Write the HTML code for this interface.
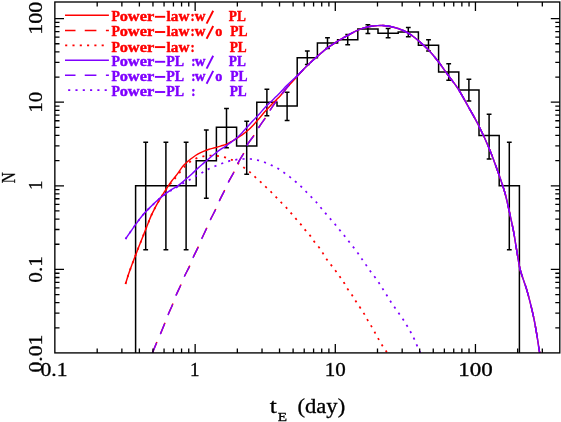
<!DOCTYPE html>
<html><head><meta charset="utf-8"><title>tE distribution</title>
<style>html,body{margin:0;padding:0;background:#fff;}body{width:561px;height:422px;overflow:hidden;font-family:"Liberation Serif",serif;}svg{display:block;will-change:transform;}text{font-family:"Liberation Serif",serif;}</style></head><body>
<svg width="561" height="422" viewBox="0 0 561 422">
<rect x="0" y="0" width="561" height="422" fill="#fff"/>
<path d="M135.60,353.00 L135.60,185.80 L155.80,185.80 L155.80,185.80 L176.00,185.80 L176.00,185.80 L196.20,185.80 L196.20,160.63 L216.40,160.63 L216.40,127.37 L236.60,127.37 L236.60,145.91 L256.80,145.91 L256.80,102.20 L277.00,102.20 L277.00,106.03 L297.20,106.03 L297.20,57.77 L317.40,57.77 L317.40,43.05 L337.60,43.05 L337.60,39.65 L357.80,39.65 L357.80,29.04 L378.00,29.04 L378.00,33.14 L398.20,33.14 L398.20,32.07 L418.40,32.07 L418.40,45.25 L438.60,45.25 L438.60,71.96 L458.80,71.96 L458.80,89.98 L479.00,89.98 L479.00,135.47 L499.20,135.47 L499.20,185.80 L519.40,185.80 L519.40,353.00" fill="none" stroke="#000" stroke-width="1.5" stroke-linejoin="miter"/>
<path d="M145.70,142.20V249.82M143.30,142.20H148.10M143.30,249.82H148.10M165.90,142.20V249.82M163.50,142.20H168.30M163.50,249.82H168.30M186.10,142.20V249.82M183.70,142.20H188.50M183.70,249.82H188.50M206.30,129.94V198.13M203.90,129.94H208.70M203.90,198.13H208.70M226.50,108.54V147.83M224.10,108.54H228.90M224.10,147.83H228.90M246.70,121.13V174.31M244.30,121.13H249.10M244.30,174.31H249.10M266.90,89.27V115.69M264.50,89.27H269.30M264.50,115.69H269.30M287.10,92.33V120.38M284.70,92.33H289.50M284.70,120.38H289.50M307.30,51.06V64.56M304.90,51.06H309.70M304.90,64.56H309.70M327.50,37.64V48.50M325.10,37.64H329.90M325.10,48.50H329.90M347.70,34.50V44.84M345.30,34.50H350.10M345.30,44.84H350.10M367.90,24.63V33.49M365.50,24.63H370.30M365.50,33.49H370.30M388.10,28.45V37.86M385.70,28.45H390.50M385.70,37.86H390.50M408.30,27.46V36.72M405.90,27.46H410.70M405.90,36.72H410.70M428.50,39.66V50.88M426.10,39.66H430.90M426.10,50.88H430.90M448.70,63.70V80.37M446.30,63.70H451.10M446.30,80.37H451.10M468.90,79.20V101.10M466.50,79.20H471.30M466.50,101.10H471.30M489.10,114.23V159.02M486.70,114.23H491.50M486.70,159.02H491.50M509.30,142.20V249.82M506.90,142.20H511.70M506.90,249.82H511.70" fill="none" stroke="#000" stroke-width="1.5"/>
<clipPath id="cp"><rect x="55.0" y="2.0" width="504.79999999999995" height="351.0"/></clipPath>
<g clip-path="url(#cp)">
<path d="M125.50,284.00 C126.02,282.33 127.48,277.32 128.60,274.00 C129.72,270.68 131.02,267.28 132.20,264.10 C133.38,260.92 134.52,257.98 135.70,254.90 C136.88,251.82 138.10,248.67 139.30,245.60 C140.50,242.53 141.62,239.77 142.90,236.50 C144.18,233.23 145.62,229.48 147.00,226.00 C148.38,222.52 149.82,218.72 151.20,215.60 C152.58,212.48 153.92,209.92 155.30,207.30 C156.68,204.68 158.12,202.25 159.50,199.90 C160.88,197.55 162.22,195.42 163.60,193.20 C164.98,190.98 166.42,188.67 167.80,186.60 C169.18,184.53 170.70,182.40 171.90,180.80 C173.10,179.20 174.02,178.23 175.00,177.00 C175.98,175.77 176.85,174.72 177.80,173.40 C178.75,172.08 179.75,170.40 180.70,169.10 C181.65,167.80 182.55,166.67 183.50,165.60 C184.45,164.53 185.45,163.58 186.40,162.70 C187.35,161.82 188.25,161.08 189.20,160.30 C190.15,159.52 190.68,159.02 192.10,158.00 C193.52,156.98 195.82,155.30 197.70,154.20 C199.58,153.10 201.50,152.23 203.40,151.40 C205.30,150.57 207.20,149.80 209.10,149.20 C211.00,148.60 212.90,148.32 214.80,147.80 C216.70,147.28 218.60,146.67 220.50,146.10 C222.40,145.53 224.30,145.20 226.20,144.40 C228.10,143.60 230.20,142.30 231.90,141.30 C233.60,140.30 234.70,139.48 236.40,138.40 C238.10,137.32 240.22,136.12 242.10,134.80 C243.98,133.48 245.82,132.15 247.70,130.50 C249.58,128.85 251.50,126.90 253.40,124.90 C255.30,122.90 257.20,120.68 259.10,118.50 C261.00,116.32 262.90,113.93 264.80,111.80 C266.70,109.67 268.60,107.67 270.50,105.70 C272.40,103.73 274.45,101.80 276.20,100.00 C277.95,98.20 279.20,96.97 281.00,94.90 C282.80,92.83 284.32,90.68 287.00,87.60 C289.68,84.52 293.75,80.03 297.10,76.40 C300.45,72.77 303.75,69.12 307.10,65.80 C310.45,62.48 313.85,59.43 317.20,56.50 C320.55,53.57 323.85,50.72 327.20,48.20 C330.55,45.68 333.95,43.50 337.30,41.40 C340.65,39.30 343.95,37.43 347.30,35.60 C350.65,33.77 354.05,31.85 357.40,30.40 C360.75,28.95 364.05,27.70 367.40,26.90 C370.75,26.10 375.15,25.83 377.50,25.60 C379.85,25.37 379.75,25.43 381.50,25.50 C383.25,25.57 385.23,25.50 388.00,26.00 C390.77,26.50 394.72,27.32 398.10,28.50 C401.48,29.68 404.97,31.12 408.30,33.10 C411.63,35.08 414.80,37.65 418.10,40.40 C421.40,43.15 424.75,46.08 428.10,49.60 C431.45,53.12 434.85,57.22 438.20,61.50 C441.55,65.78 444.85,70.70 448.20,75.30 C451.55,79.90 454.95,83.87 458.30,89.10 C461.65,94.33 464.93,100.67 468.30,106.70 C471.67,112.73 475.03,118.38 478.50,125.30 C481.97,132.22 485.70,140.00 489.10,148.20 C492.50,156.40 496.27,167.07 498.90,174.50 C501.53,181.93 503.18,186.72 504.90,192.80 C506.62,198.88 507.77,204.60 509.20,211.00 C510.63,217.40 512.25,224.63 513.50,231.20 C514.75,237.77 515.63,244.18 516.70,250.40 C517.77,256.62 518.83,263.75 519.90,268.50 C520.97,273.25 521.97,275.38 523.10,278.90 C524.23,282.42 525.52,285.65 526.70,289.60 C527.88,293.55 529.02,297.87 530.20,302.60 C531.38,307.33 532.73,312.87 533.80,318.00 C534.87,323.13 535.73,328.27 536.60,333.40 C537.47,338.53 538.48,345.57 539.00,348.80 C539.52,352.03 539.50,351.60 539.70,352.80 C539.90,354.00 540.12,355.47 540.20,356.00" fill="none" stroke="#ff0000" stroke-width="1.45"/>
<path d="M152.20,353.50 C152.93,351.72 155.25,346.00 156.60,342.80 C157.95,339.60 158.95,337.50 160.30,334.30 C161.65,331.10 163.47,326.70 164.70,323.60 C165.93,320.50 166.38,318.90 167.70,315.70 C169.02,312.50 171.25,307.70 172.60,304.40 C173.95,301.10 174.42,299.17 175.80,295.90 C177.18,292.63 179.43,288.12 180.90,284.80 C182.37,281.48 183.15,279.12 184.60,276.00 C186.05,272.88 188.12,269.32 189.60,266.10 C191.08,262.88 191.98,260.05 193.50,256.70 C195.02,253.35 197.25,249.17 198.70,246.00 C200.15,242.83 200.82,240.78 202.20,237.70 C203.58,234.62 205.62,230.53 207.00,227.50 C208.38,224.47 209.05,222.53 210.50,219.50 C211.95,216.47 214.23,212.38 215.70,209.30 C217.17,206.22 217.80,204.18 219.30,201.00 C220.80,197.82 223.18,193.33 224.70,190.20 C226.22,187.07 226.85,185.23 228.40,182.20 C229.95,179.17 232.28,175.38 234.00,172.00 C235.72,168.62 236.93,165.28 238.70,161.90 C240.47,158.52 243.10,154.67 244.60,151.70 C246.10,148.73 246.07,146.92 247.70,144.10 C249.33,141.28 252.50,137.65 254.40,134.80 C256.30,131.95 257.25,129.85 259.10,127.00 C260.95,124.15 263.72,120.43 265.50,117.70 C267.28,114.97 268.02,113.32 269.80,110.60 C271.58,107.88 274.25,104.07 276.20,101.40 C278.15,98.73 279.53,97.12 281.50,94.60 C283.47,92.08 285.40,89.35 288.00,86.30 C290.60,83.25 293.92,79.72 297.10,76.30 C300.28,72.88 303.75,69.10 307.10,65.80 C310.45,62.50 313.85,59.43 317.20,56.50 C320.55,53.57 323.85,50.72 327.20,48.20 C330.55,45.68 333.95,43.50 337.30,41.40 C340.65,39.30 343.95,37.43 347.30,35.60 C350.65,33.77 354.05,31.85 357.40,30.40 C360.75,28.95 364.05,27.70 367.40,26.90 C370.75,26.10 375.15,25.83 377.50,25.60 C379.85,25.37 379.75,25.43 381.50,25.50 C383.25,25.57 385.23,25.50 388.00,26.00 C390.77,26.50 394.72,27.32 398.10,28.50 C401.48,29.68 404.97,31.12 408.30,33.10 C411.63,35.08 414.80,37.65 418.10,40.40 C421.40,43.15 424.75,46.08 428.10,49.60 C431.45,53.12 434.85,57.22 438.20,61.50 C441.55,65.78 444.85,70.70 448.20,75.30 C451.55,79.90 454.95,83.87 458.30,89.10 C461.65,94.33 464.93,100.67 468.30,106.70 C471.67,112.73 475.03,118.38 478.50,125.30 C481.97,132.22 485.70,140.00 489.10,148.20 C492.50,156.40 496.27,167.07 498.90,174.50 C501.53,181.93 503.18,186.72 504.90,192.80 C506.62,198.88 507.77,204.60 509.20,211.00 C510.63,217.40 512.25,224.63 513.50,231.20 C514.75,237.77 515.63,244.18 516.70,250.40 C517.77,256.62 518.83,263.75 519.90,268.50 C520.97,273.25 521.97,275.38 523.10,278.90 C524.23,282.42 525.52,285.65 526.70,289.60 C527.88,293.55 529.02,297.87 530.20,302.60 C531.38,307.33 532.73,312.87 533.80,318.00 C534.87,323.13 535.73,328.27 536.60,333.40 C537.47,338.53 538.48,345.57 539.00,348.80 C539.52,352.03 539.50,351.60 539.70,352.80 C539.90,354.00 540.12,355.47 540.20,356.00" fill="none" stroke="#ff0000" stroke-width="1.45" stroke-dasharray="11.6 9.2" stroke-dashoffset="-0.8"/>
<path d="M125.50,284.00 C126.02,282.33 127.48,277.32 128.60,274.00 C129.72,270.68 131.02,267.28 132.20,264.10 C133.38,260.92 134.52,257.98 135.70,254.90 C136.88,251.82 138.10,248.67 139.30,245.60 C140.50,242.53 141.62,239.77 142.90,236.50 C144.18,233.23 145.62,229.48 147.00,226.00 C148.38,222.52 149.82,218.72 151.20,215.60 C152.58,212.48 153.92,209.92 155.30,207.30 C156.68,204.68 158.12,202.22 159.50,199.90 C160.88,197.58 162.22,195.52 163.60,193.40 C164.98,191.28 166.42,189.10 167.80,187.20 C169.18,185.30 170.70,183.47 171.90,182.00 C173.10,180.53 173.53,180.18 175.00,178.40 C176.47,176.62 178.80,173.57 180.70,171.30 C182.60,169.03 184.50,166.58 186.40,164.80 C188.30,163.02 190.22,161.78 192.10,160.60 C193.98,159.42 195.82,158.42 197.70,157.70 C199.58,156.98 201.50,156.65 203.40,156.30 C205.30,155.95 207.20,155.72 209.10,155.60 C211.00,155.48 212.90,155.48 214.80,155.60 C216.70,155.72 218.60,155.95 220.50,156.30 C222.40,156.65 224.30,157.10 226.20,157.70 C228.10,158.30 229.97,158.98 231.90,159.90 C233.83,160.82 235.87,161.97 237.80,163.20 C239.73,164.43 241.38,165.73 243.50,167.30 C245.62,168.87 248.50,170.92 250.50,172.60 C252.50,174.28 253.73,175.77 255.50,177.40 C257.27,179.03 259.30,180.73 261.10,182.40 C262.90,184.07 264.55,185.72 266.30,187.40 C268.05,189.08 269.88,190.78 271.60,192.50 C273.32,194.22 274.92,195.95 276.60,197.70 C278.28,199.45 279.98,201.23 281.70,203.00 C283.42,204.77 285.27,206.53 286.90,208.30 C288.53,210.07 289.95,211.80 291.50,213.60 C293.05,215.40 294.62,217.27 296.20,219.10 C297.78,220.93 299.45,222.72 301.00,224.60 C302.55,226.48 303.95,228.52 305.50,230.40 C307.05,232.28 308.83,234.02 310.30,235.90 C311.77,237.78 312.83,239.77 314.30,241.70 C315.77,243.63 317.65,245.55 319.10,247.50 C320.55,249.45 321.70,251.40 323.00,253.40 C324.30,255.40 325.53,257.55 326.90,259.50 C328.27,261.45 329.73,263.20 331.20,265.10 C332.67,267.00 334.28,268.98 335.70,270.90 C337.12,272.82 338.37,274.72 339.70,276.60 C341.03,278.48 342.45,280.23 343.70,282.20 C344.95,284.17 345.93,286.43 347.20,288.40 C348.47,290.37 350.17,292.37 351.30,294.00 C352.43,295.63 353.00,296.62 354.00,298.20 C355.00,299.78 356.03,301.57 357.30,303.50 C358.57,305.43 360.27,307.75 361.60,309.80 C362.93,311.85 364.27,314.03 365.30,315.80 C366.33,317.57 366.95,318.93 367.80,320.40 C368.65,321.87 369.55,323.17 370.40,324.60 C371.25,326.03 372.07,327.53 372.90,329.00 C373.73,330.47 374.57,331.92 375.40,333.40 C376.23,334.88 377.07,336.38 377.90,337.90 C378.73,339.42 379.57,341.07 380.40,342.50 C381.23,343.93 382.07,345.25 382.90,346.50 C383.73,347.75 384.67,348.92 385.40,350.00 C386.13,351.08 386.67,352.00 387.30,353.00 C387.93,354.00 388.88,355.50 389.20,356.00" fill="none" stroke="#ff0000" stroke-width="1.75" stroke-dasharray="2.1 5.2"/>
<path d="M125.50,239.00 C126.47,237.60 129.23,233.53 131.30,230.60 C133.37,227.67 135.70,224.32 137.90,221.40 C140.10,218.48 142.28,215.62 144.50,213.10 C146.72,210.58 148.98,208.48 151.20,206.30 C153.42,204.12 155.60,201.95 157.80,200.00 C160.00,198.05 162.18,196.28 164.40,194.60 C166.62,192.92 169.20,191.13 171.10,189.90 C173.00,188.67 174.20,188.25 175.80,187.20 C177.40,186.15 178.93,185.00 180.70,183.60 C182.47,182.20 184.50,180.45 186.40,178.80 C188.30,177.15 190.22,175.43 192.10,173.70 C193.98,171.97 195.82,170.12 197.70,168.40 C199.58,166.68 201.50,165.05 203.40,163.40 C205.30,161.75 207.20,160.10 209.10,158.50 C211.00,156.90 212.90,155.32 214.80,153.80 C216.70,152.28 218.60,150.73 220.50,149.40 C222.40,148.07 224.30,147.10 226.20,145.80 C228.10,144.50 230.20,142.83 231.90,141.60 C233.60,140.37 234.70,139.88 236.40,138.40 C238.10,136.92 240.22,134.67 242.10,132.70 C243.98,130.73 245.82,128.67 247.70,126.60 C249.58,124.53 251.50,122.37 253.40,120.30 C255.30,118.23 257.20,116.28 259.10,114.20 C261.00,112.12 262.90,109.82 264.80,107.80 C266.70,105.78 268.60,103.97 270.50,102.10 C272.40,100.23 274.45,98.32 276.20,96.60 C277.95,94.88 279.20,93.68 281.00,91.80 C282.80,89.92 284.32,87.97 287.00,85.30 C289.68,82.63 293.75,79.05 297.10,75.80 C300.45,72.55 303.75,69.02 307.10,65.80 C310.45,62.58 313.85,59.43 317.20,56.50 C320.55,53.57 323.85,50.72 327.20,48.20 C330.55,45.68 333.95,43.50 337.30,41.40 C340.65,39.30 343.95,37.43 347.30,35.60 C350.65,33.77 354.05,31.85 357.40,30.40 C360.75,28.95 364.05,27.70 367.40,26.90 C370.75,26.10 375.15,25.83 377.50,25.60 C379.85,25.37 379.75,25.43 381.50,25.50 C383.25,25.57 385.23,25.50 388.00,26.00 C390.77,26.50 394.72,27.32 398.10,28.50 C401.48,29.68 404.97,31.12 408.30,33.10 C411.63,35.08 414.80,37.65 418.10,40.40 C421.40,43.15 424.75,46.08 428.10,49.60 C431.45,53.12 434.85,57.22 438.20,61.50 C441.55,65.78 444.85,70.70 448.20,75.30 C451.55,79.90 454.95,83.87 458.30,89.10 C461.65,94.33 464.93,100.67 468.30,106.70 C471.67,112.73 475.03,118.38 478.50,125.30 C481.97,132.22 485.70,140.00 489.10,148.20 C492.50,156.40 496.27,167.07 498.90,174.50 C501.53,181.93 503.18,186.72 504.90,192.80 C506.62,198.88 507.77,204.60 509.20,211.00 C510.63,217.40 512.25,224.63 513.50,231.20 C514.75,237.77 515.63,244.18 516.70,250.40 C517.77,256.62 518.83,263.75 519.90,268.50 C520.97,273.25 521.97,275.38 523.10,278.90 C524.23,282.42 525.52,285.65 526.70,289.60 C527.88,293.55 529.02,297.87 530.20,302.60 C531.38,307.33 532.73,312.87 533.80,318.00 C534.87,323.13 535.73,328.27 536.60,333.40 C537.47,338.53 538.48,345.57 539.00,348.80 C539.52,352.03 539.50,351.60 539.70,352.80 C539.90,354.00 540.12,355.47 540.20,356.00" fill="none" stroke="#7f00ff" stroke-width="1.45"/>
<path d="M152.20,353.50 C152.93,351.72 155.25,346.00 156.60,342.80 C157.95,339.60 158.95,337.50 160.30,334.30 C161.65,331.10 163.47,326.70 164.70,323.60 C165.93,320.50 166.38,318.90 167.70,315.70 C169.02,312.50 171.25,307.70 172.60,304.40 C173.95,301.10 174.42,299.17 175.80,295.90 C177.18,292.63 179.43,288.12 180.90,284.80 C182.37,281.48 183.15,279.12 184.60,276.00 C186.05,272.88 188.12,269.32 189.60,266.10 C191.08,262.88 191.98,260.05 193.50,256.70 C195.02,253.35 197.25,249.17 198.70,246.00 C200.15,242.83 200.82,240.78 202.20,237.70 C203.58,234.62 205.62,230.53 207.00,227.50 C208.38,224.47 209.05,222.53 210.50,219.50 C211.95,216.47 214.23,212.38 215.70,209.30 C217.17,206.22 217.80,204.18 219.30,201.00 C220.80,197.82 223.18,193.33 224.70,190.20 C226.22,187.07 226.85,185.23 228.40,182.20 C229.95,179.17 232.28,175.38 234.00,172.00 C235.72,168.62 236.93,165.28 238.70,161.90 C240.47,158.52 243.10,154.67 244.60,151.70 C246.10,148.73 246.07,146.92 247.70,144.10 C249.33,141.28 252.50,137.65 254.40,134.80 C256.30,131.95 257.25,129.85 259.10,127.00 C260.95,124.15 263.72,120.43 265.50,117.70 C267.28,114.97 268.02,113.32 269.80,110.60 C271.58,107.88 274.25,104.07 276.20,101.40 C278.15,98.73 279.53,97.12 281.50,94.60 C283.47,92.08 285.40,89.35 288.00,86.30 C290.60,83.25 293.92,79.72 297.10,76.30 C300.28,72.88 303.75,69.10 307.10,65.80 C310.45,62.50 313.85,59.43 317.20,56.50 C320.55,53.57 323.85,50.72 327.20,48.20 C330.55,45.68 333.95,43.50 337.30,41.40 C340.65,39.30 343.95,37.43 347.30,35.60 C350.65,33.77 354.05,31.85 357.40,30.40 C360.75,28.95 364.05,27.70 367.40,26.90 C370.75,26.10 375.15,25.83 377.50,25.60 C379.85,25.37 379.75,25.43 381.50,25.50 C383.25,25.57 385.23,25.50 388.00,26.00 C390.77,26.50 394.72,27.32 398.10,28.50 C401.48,29.68 404.97,31.12 408.30,33.10 C411.63,35.08 414.80,37.65 418.10,40.40 C421.40,43.15 424.75,46.08 428.10,49.60 C431.45,53.12 434.85,57.22 438.20,61.50 C441.55,65.78 444.85,70.70 448.20,75.30 C451.55,79.90 454.95,83.87 458.30,89.10 C461.65,94.33 464.93,100.67 468.30,106.70 C471.67,112.73 475.03,118.38 478.50,125.30 C481.97,132.22 485.70,140.00 489.10,148.20 C492.50,156.40 496.27,167.07 498.90,174.50 C501.53,181.93 503.18,186.72 504.90,192.80 C506.62,198.88 507.77,204.60 509.20,211.00 C510.63,217.40 512.25,224.63 513.50,231.20 C514.75,237.77 515.63,244.18 516.70,250.40 C517.77,256.62 518.83,263.75 519.90,268.50 C520.97,273.25 521.97,275.38 523.10,278.90 C524.23,282.42 525.52,285.65 526.70,289.60 C527.88,293.55 529.02,297.87 530.20,302.60 C531.38,307.33 532.73,312.87 533.80,318.00 C534.87,323.13 535.73,328.27 536.60,333.40 C537.47,338.53 538.48,345.57 539.00,348.80 C539.52,352.03 539.50,351.60 539.70,352.80 C539.90,354.00 540.12,355.47 540.20,356.00" fill="none" stroke="#7f00ff" stroke-width="1.45" stroke-dasharray="11.6 9.2"/>
<path d="M125.50,239.00 C126.47,237.60 129.23,233.53 131.30,230.60 C133.37,227.67 135.70,224.32 137.90,221.40 C140.10,218.48 142.28,215.62 144.50,213.10 C146.72,210.58 148.98,208.48 151.20,206.30 C153.42,204.12 155.60,201.92 157.80,200.00 C160.00,198.08 162.18,196.40 164.40,194.80 C166.62,193.20 169.33,191.48 171.10,190.40 C172.87,189.32 173.17,189.38 175.00,188.30 C176.83,187.22 179.73,185.28 182.10,183.90 C184.47,182.52 186.95,181.27 189.20,180.00 C191.45,178.73 193.47,177.52 195.60,176.30 C197.73,175.08 199.87,173.90 202.00,172.70 C204.13,171.50 206.15,170.22 208.40,169.10 C210.65,167.98 213.13,166.98 215.50,166.00 C217.87,165.02 220.23,164.05 222.60,163.20 C224.97,162.35 227.38,161.50 229.70,160.90 C232.02,160.30 234.28,159.92 236.50,159.60 C238.72,159.28 240.67,159.10 243.00,159.00 C245.33,158.90 248.08,158.82 250.50,159.00 C252.92,159.18 255.20,159.55 257.50,160.10 C259.80,160.65 262.03,161.47 264.30,162.30 C266.57,163.13 268.88,164.10 271.10,165.10 C273.32,166.10 275.48,167.07 277.60,168.30 C279.72,169.53 281.78,171.07 283.80,172.50 C285.82,173.93 287.82,175.40 289.75,176.90 C291.68,178.40 293.54,179.93 295.40,181.50 C297.26,183.07 299.15,184.63 300.90,186.30 C302.65,187.97 304.22,189.77 305.90,191.50 C307.58,193.23 309.30,194.95 311.00,196.70 C312.70,198.45 314.45,200.15 316.10,202.00 C317.75,203.85 319.35,205.95 320.90,207.80 C322.45,209.65 323.90,211.35 325.40,213.10 C326.90,214.85 328.35,216.50 329.90,218.30 C331.45,220.10 333.15,222.05 334.70,223.90 C336.25,225.75 337.70,227.57 339.20,229.40 C340.70,231.23 342.20,233.02 343.70,234.90 C345.20,236.78 346.68,238.77 348.20,240.70 C349.72,242.63 351.27,244.55 352.80,246.50 C354.33,248.45 356.07,250.57 357.40,252.40 C358.73,254.23 359.57,255.72 360.80,257.50 C362.03,259.28 363.47,261.17 364.80,263.10 C366.13,265.03 367.37,267.10 368.80,269.10 C370.23,271.10 371.93,273.13 373.40,275.10 C374.87,277.07 376.30,279.02 377.60,280.90 C378.90,282.78 380.07,284.63 381.20,286.40 C382.33,288.17 383.28,289.73 384.40,291.50 C385.52,293.27 386.72,295.12 387.90,297.00 C389.08,298.88 390.23,300.88 391.50,302.80 C392.77,304.72 394.17,306.58 395.50,308.50 C396.83,310.42 398.20,312.42 399.50,314.30 C400.80,316.18 402.13,318.03 403.30,319.80 C404.47,321.57 405.47,323.20 406.50,324.90 C407.53,326.60 408.58,328.37 409.50,330.00 C410.42,331.63 411.20,333.17 412.00,334.70 C412.80,336.23 413.53,337.53 414.30,339.20 C415.07,340.87 415.80,342.90 416.60,344.70 C417.40,346.50 418.47,348.62 419.10,350.00 C419.73,351.38 419.97,352.00 420.40,353.00 C420.83,354.00 421.48,355.50 421.70,356.00" fill="none" stroke="#7f00ff" stroke-width="1.75" stroke-dasharray="2.1 5.2"/>
</g>
<rect x="54.85" y="2.0" width="504.94999999999993" height="350.9" fill="none" stroke="#000" stroke-width="1.35"/>
<path d="M97.19,353.0v-4.5M97.19,2.0v4.5M121.87,353.0v-4.5M121.87,2.0v4.5M139.38,353.0v-4.5M139.38,2.0v4.5M152.96,353.0v-4.5M152.96,2.0v4.5M164.06,353.0v-4.5M164.06,2.0v4.5M173.44,353.0v-4.5M173.44,2.0v4.5M181.57,353.0v-4.5M181.57,2.0v4.5M188.74,353.0v-4.5M188.74,2.0v4.5M195.15,353.0v-9.0M195.15,2.0v9.0M237.34,353.0v-4.5M237.34,2.0v4.5M262.02,353.0v-4.5M262.02,2.0v4.5M279.53,353.0v-4.5M279.53,2.0v4.5M293.11,353.0v-4.5M293.11,2.0v4.5M304.21,353.0v-4.5M304.21,2.0v4.5M313.59,353.0v-4.5M313.59,2.0v4.5M321.72,353.0v-4.5M321.72,2.0v4.5M328.89,353.0v-4.5M328.89,2.0v4.5M335.30,353.0v-9.0M335.30,2.0v9.0M377.49,353.0v-4.5M377.49,2.0v4.5M402.17,353.0v-4.5M402.17,2.0v4.5M419.68,353.0v-4.5M419.68,2.0v4.5M433.26,353.0v-4.5M433.26,2.0v4.5M444.36,353.0v-4.5M444.36,2.0v4.5M453.74,353.0v-4.5M453.74,2.0v4.5M461.87,353.0v-4.5M461.87,2.0v4.5M469.04,353.0v-4.5M469.04,2.0v4.5M475.45,353.0v-9.0M475.45,2.0v9.0M517.64,353.0v-4.5M517.64,2.0v4.5M542.32,353.0v-4.5M542.32,2.0v4.5M55.0,327.83h4.5M559.8,327.83h-4.5M55.0,313.11h4.5M559.8,313.11h-4.5M55.0,302.67h4.5M559.8,302.67h-4.5M55.0,294.57h4.5M559.8,294.57h-4.5M55.0,287.95h4.5M559.8,287.95h-4.5M55.0,282.35h4.5M559.8,282.35h-4.5M55.0,277.50h4.5M559.8,277.50h-4.5M55.0,273.23h4.5M559.8,273.23h-4.5M55.0,269.40h9.0M559.8,269.40h-9.0M55.0,244.23h4.5M559.8,244.23h-4.5M55.0,229.51h4.5M559.8,229.51h-4.5M55.0,219.07h4.5M559.8,219.07h-4.5M55.0,210.97h4.5M559.8,210.97h-4.5M55.0,204.35h4.5M559.8,204.35h-4.5M55.0,198.75h4.5M559.8,198.75h-4.5M55.0,193.90h4.5M559.8,193.90h-4.5M55.0,189.63h4.5M559.8,189.63h-4.5M55.0,185.80h9.0M559.8,185.80h-9.0M55.0,160.63h4.5M559.8,160.63h-4.5M55.0,145.91h4.5M559.8,145.91h-4.5M55.0,135.47h4.5M559.8,135.47h-4.5M55.0,127.37h4.5M559.8,127.37h-4.5M55.0,120.75h4.5M559.8,120.75h-4.5M55.0,115.15h4.5M559.8,115.15h-4.5M55.0,110.30h4.5M559.8,110.30h-4.5M55.0,106.03h4.5M559.8,106.03h-4.5M55.0,102.20h9.0M559.8,102.20h-9.0M55.0,77.03h4.5M559.8,77.03h-4.5M55.0,62.31h4.5M559.8,62.31h-4.5M55.0,51.87h4.5M559.8,51.87h-4.5M55.0,43.77h4.5M559.8,43.77h-4.5M55.0,37.15h4.5M559.8,37.15h-4.5M55.0,31.55h4.5M559.8,31.55h-4.5M55.0,26.70h4.5M559.8,26.70h-4.5M55.0,22.43h4.5M559.8,22.43h-4.5M55.0,18.60h9.0M559.8,18.60h-9.0" fill="none" stroke="#000" stroke-width="1.3"/>
<text x="54.00" y="375.6" font-size="19" stroke="#000" stroke-width="0.3" text-anchor="middle" textLength="27.0" lengthAdjust="spacingAndGlyphs">0.1</text>
<text x="194.80" y="375.6" font-size="19" stroke="#000" stroke-width="0.3" text-anchor="middle" textLength="9.5" lengthAdjust="spacingAndGlyphs">1</text>
<text x="335.30" y="375.6" font-size="19" stroke="#000" stroke-width="0.3" text-anchor="middle" textLength="21.0" lengthAdjust="spacingAndGlyphs">10</text>
<text x="475.50" y="375.6" font-size="19" stroke="#000" stroke-width="0.3" text-anchor="middle" textLength="34.5" lengthAdjust="spacingAndGlyphs">100</text>
<text transform="translate(42.3,353.60) rotate(-90)" font-size="19" stroke="#000" stroke-width="0.3" text-anchor="middle" textLength="38.0" lengthAdjust="spacingAndGlyphs">0.01</text>
<text transform="translate(42.3,269.40) rotate(-90)" font-size="19" stroke="#000" stroke-width="0.3" text-anchor="middle" textLength="26.5" lengthAdjust="spacingAndGlyphs">0.1</text>
<text transform="translate(42.3,185.20) rotate(-90)" font-size="19" stroke="#000" stroke-width="0.3" text-anchor="middle" textLength="9.5" lengthAdjust="spacingAndGlyphs">1</text>
<text transform="translate(42.3,102.20) rotate(-90)" font-size="19" stroke="#000" stroke-width="0.3" text-anchor="middle" textLength="21.0" lengthAdjust="spacingAndGlyphs">10</text>
<text transform="translate(42.3,18.30) rotate(-90)" font-size="19" stroke="#000" stroke-width="0.3" text-anchor="middle" textLength="33.0" lengthAdjust="spacingAndGlyphs">100</text>
<text transform="translate(14.6,177.8) rotate(-90)" font-size="19" stroke="#000" stroke-width="0.3" text-anchor="middle" textLength="11" lengthAdjust="spacingAndGlyphs">N</text>
<text x="269.7" y="413" font-size="20.5" stroke="#000" stroke-width="0.3" textLength="7" lengthAdjust="spacingAndGlyphs">t</text>
<text x="277.8" y="420.6" font-size="13" stroke="#000" stroke-width="0.3" textLength="9.3" lengthAdjust="spacingAndGlyphs">E</text>
<text x="297.5" y="413" font-size="20.5" stroke="#000" stroke-width="0.3" textLength="47.7" lengthAdjust="spacingAndGlyphs">(day)</text>
<path d="M65,15.2H108.9" stroke="#ff0000" stroke-width="1.45" fill="none"/>
<text x="111.40" y="21.20" font-size="14.5" font-weight="bold" fill="#ff0000" stroke="#ff0000" stroke-width="0.45" textLength="8.40" lengthAdjust="spacingAndGlyphs">P</text>
<text x="119.70" y="21.20" font-size="15.3" font-weight="bold" fill="#ff0000" stroke="#ff0000" stroke-width="0.45" textLength="34.50" lengthAdjust="spacingAndGlyphs">ower</text>
<path d="M154.9,16.80H165.2" stroke="#ff0000" stroke-width="1.9" fill="none"/>
<text x="166.60" y="21.20" font-size="15.3" font-weight="bold" fill="#ff0000" stroke="#ff0000" stroke-width="0.45" textLength="22.80" lengthAdjust="spacingAndGlyphs">law</text>
<text x="190.60" y="21.20" font-size="14.5" font-weight="bold" fill="#ff0000" stroke="#ff0000" stroke-width="0.45" textLength="4.20" lengthAdjust="spacingAndGlyphs">:</text>
<text x="194.80" y="21.20" font-size="15.3" font-weight="bold" fill="#ff0000" stroke="#ff0000" stroke-width="0.45" textLength="10.70" lengthAdjust="spacingAndGlyphs">w</text>
<path d="M206.6,23.60L213.2,10.80" stroke="#ff0000" stroke-width="1.9" fill="none"/>
<text x="228.80" y="21.20" font-size="14.5" font-weight="bold" fill="#ff0000" stroke="#ff0000" stroke-width="0.45" textLength="17.00" lengthAdjust="spacingAndGlyphs">PL</text>
<path d="M65,30.4H75.5M84.75,30.4H96.4M105.9,30.4H108.9" stroke="#ff0000" stroke-width="1.45" fill="none"/>
<text x="111.40" y="36.40" font-size="14.5" font-weight="bold" fill="#ff0000" stroke="#ff0000" stroke-width="0.45" textLength="8.40" lengthAdjust="spacingAndGlyphs">P</text>
<text x="119.70" y="36.40" font-size="15.3" font-weight="bold" fill="#ff0000" stroke="#ff0000" stroke-width="0.45" textLength="34.50" lengthAdjust="spacingAndGlyphs">ower</text>
<path d="M154.9,32.00H165.2" stroke="#ff0000" stroke-width="1.9" fill="none"/>
<text x="166.60" y="36.40" font-size="15.3" font-weight="bold" fill="#ff0000" stroke="#ff0000" stroke-width="0.45" textLength="22.80" lengthAdjust="spacingAndGlyphs">law</text>
<text x="190.60" y="36.40" font-size="14.5" font-weight="bold" fill="#ff0000" stroke="#ff0000" stroke-width="0.45" textLength="4.20" lengthAdjust="spacingAndGlyphs">:</text>
<text x="194.80" y="36.40" font-size="15.3" font-weight="bold" fill="#ff0000" stroke="#ff0000" stroke-width="0.45" textLength="10.70" lengthAdjust="spacingAndGlyphs">w</text>
<path d="M206.6,38.80L213.2,26.00" stroke="#ff0000" stroke-width="1.9" fill="none"/>
<text x="215.30" y="36.40" font-size="15.3" font-weight="bold" fill="#ff0000" stroke="#ff0000" stroke-width="0.45" textLength="7.10" lengthAdjust="spacingAndGlyphs">o</text>
<text x="230.20" y="36.40" font-size="14.5" font-weight="bold" fill="#ff0000" stroke="#ff0000" stroke-width="0.45" textLength="17.20" lengthAdjust="spacingAndGlyphs">PL</text>
<path d="M65.15,45.4h2.1M72.45,45.4h2.1M79.75,45.4h2.1M87.05,45.4h2.1M94.35,45.4h2.1M101.65,45.4h2.1" stroke="#ff0000" stroke-width="1.75" fill="none"/>
<text x="111.40" y="51.50" font-size="14.5" font-weight="bold" fill="#ff0000" stroke="#ff0000" stroke-width="0.45" textLength="8.40" lengthAdjust="spacingAndGlyphs">P</text>
<text x="119.70" y="51.50" font-size="15.3" font-weight="bold" fill="#ff0000" stroke="#ff0000" stroke-width="0.45" textLength="34.50" lengthAdjust="spacingAndGlyphs">ower</text>
<path d="M154.9,47.10H165.2" stroke="#ff0000" stroke-width="1.9" fill="none"/>
<text x="166.60" y="51.50" font-size="15.3" font-weight="bold" fill="#ff0000" stroke="#ff0000" stroke-width="0.45" textLength="22.80" lengthAdjust="spacingAndGlyphs">law</text>
<text x="190.60" y="51.50" font-size="14.5" font-weight="bold" fill="#ff0000" stroke="#ff0000" stroke-width="0.45" textLength="4.20" lengthAdjust="spacingAndGlyphs">:</text>
<text x="229.70" y="51.50" font-size="14.5" font-weight="bold" fill="#ff0000" stroke="#ff0000" stroke-width="0.45" textLength="17.00" lengthAdjust="spacingAndGlyphs">PL</text>
<path d="M65,60.2H108.9" stroke="#7f00ff" stroke-width="1.45" fill="none"/>
<text x="111.40" y="66.20" font-size="14.5" font-weight="bold" fill="#7f00ff" stroke="#7f00ff" stroke-width="0.45" textLength="8.40" lengthAdjust="spacingAndGlyphs">P</text>
<text x="119.70" y="66.20" font-size="15.3" font-weight="bold" fill="#7f00ff" stroke="#7f00ff" stroke-width="0.45" textLength="34.50" lengthAdjust="spacingAndGlyphs">ower</text>
<path d="M154.9,61.80H165.2" stroke="#7f00ff" stroke-width="1.9" fill="none"/>
<text x="166.20" y="66.20" font-size="14.5" font-weight="bold" fill="#7f00ff" stroke="#7f00ff" stroke-width="0.45" textLength="17.80" lengthAdjust="spacingAndGlyphs">PL</text>
<text x="191.20" y="66.20" font-size="14.5" font-weight="bold" fill="#7f00ff" stroke="#7f00ff" stroke-width="0.45" textLength="4.20" lengthAdjust="spacingAndGlyphs">:</text>
<text x="194.80" y="66.20" font-size="15.3" font-weight="bold" fill="#7f00ff" stroke="#7f00ff" stroke-width="0.45" textLength="10.70" lengthAdjust="spacingAndGlyphs">w</text>
<path d="M206.6,68.60L213.2,55.80" stroke="#7f00ff" stroke-width="1.9" fill="none"/>
<text x="228.80" y="66.20" font-size="14.5" font-weight="bold" fill="#7f00ff" stroke="#7f00ff" stroke-width="0.45" textLength="17.00" lengthAdjust="spacingAndGlyphs">PL</text>
<path d="M65,75.3H75.5M84.75,75.3H96.4M105.9,75.3H108.9" stroke="#7f00ff" stroke-width="1.45" fill="none"/>
<text x="111.40" y="81.30" font-size="14.5" font-weight="bold" fill="#7f00ff" stroke="#7f00ff" stroke-width="0.45" textLength="8.40" lengthAdjust="spacingAndGlyphs">P</text>
<text x="119.70" y="81.30" font-size="15.3" font-weight="bold" fill="#7f00ff" stroke="#7f00ff" stroke-width="0.45" textLength="34.50" lengthAdjust="spacingAndGlyphs">ower</text>
<path d="M154.9,76.90H165.2" stroke="#7f00ff" stroke-width="1.9" fill="none"/>
<text x="166.20" y="81.30" font-size="14.5" font-weight="bold" fill="#7f00ff" stroke="#7f00ff" stroke-width="0.45" textLength="17.80" lengthAdjust="spacingAndGlyphs">PL</text>
<text x="191.20" y="81.30" font-size="14.5" font-weight="bold" fill="#7f00ff" stroke="#7f00ff" stroke-width="0.45" textLength="4.20" lengthAdjust="spacingAndGlyphs">:</text>
<text x="194.80" y="81.30" font-size="15.3" font-weight="bold" fill="#7f00ff" stroke="#7f00ff" stroke-width="0.45" textLength="10.70" lengthAdjust="spacingAndGlyphs">w</text>
<path d="M206.6,83.70L213.2,70.90" stroke="#7f00ff" stroke-width="1.9" fill="none"/>
<text x="215.30" y="81.30" font-size="15.3" font-weight="bold" fill="#7f00ff" stroke="#7f00ff" stroke-width="0.45" textLength="7.10" lengthAdjust="spacingAndGlyphs">o</text>
<text x="230.20" y="81.30" font-size="14.5" font-weight="bold" fill="#7f00ff" stroke="#7f00ff" stroke-width="0.45" textLength="17.20" lengthAdjust="spacingAndGlyphs">PL</text>
<path d="M68.15,90.1h2.1M75.45,90.1h2.1M82.75,90.1h2.1M90.05,90.1h2.1M97.35,90.1h2.1M104.65,90.1h2.1" stroke="#7f00ff" stroke-width="1.75" fill="none"/>
<text x="111.40" y="96.40" font-size="14.5" font-weight="bold" fill="#7f00ff" stroke="#7f00ff" stroke-width="0.45" textLength="8.40" lengthAdjust="spacingAndGlyphs">P</text>
<text x="119.70" y="96.40" font-size="15.3" font-weight="bold" fill="#7f00ff" stroke="#7f00ff" stroke-width="0.45" textLength="34.50" lengthAdjust="spacingAndGlyphs">ower</text>
<path d="M154.9,92.00H165.2" stroke="#7f00ff" stroke-width="1.9" fill="none"/>
<text x="166.20" y="96.40" font-size="14.5" font-weight="bold" fill="#7f00ff" stroke="#7f00ff" stroke-width="0.45" textLength="17.80" lengthAdjust="spacingAndGlyphs">PL</text>
<text x="191.20" y="96.40" font-size="14.5" font-weight="bold" fill="#7f00ff" stroke="#7f00ff" stroke-width="0.45" textLength="4.20" lengthAdjust="spacingAndGlyphs">:</text>
<text x="229.70" y="96.40" font-size="14.5" font-weight="bold" fill="#7f00ff" stroke="#7f00ff" stroke-width="0.45" textLength="17.00" lengthAdjust="spacingAndGlyphs">PL</text>
</svg></body></html>
